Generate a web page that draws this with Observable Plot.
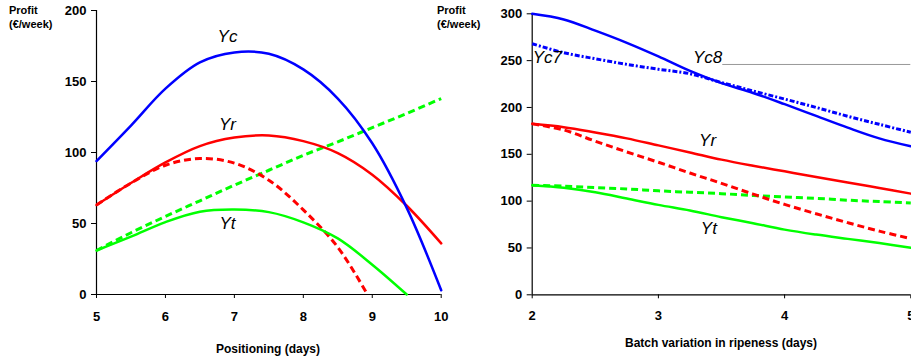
<!DOCTYPE html>
<html>
<head>
<meta charset="utf-8">
<script src="https://cdn.jsdelivr.net/npm/d3@7"></script>
<script src="https://cdn.jsdelivr.net/npm/@observablehq/plot@0.6"></script>
<style>
  body { margin: 0; background: white; font-family: "Liberation Sans", Arial, sans-serif; }
  #wrap { position: relative; width: 911px; height: 362px; overflow: hidden; background: white; }
  .panel { position: absolute; top: 0; }
  .ylab { position: absolute; top: 3px; font-size: 11px; font-weight: bold; line-height: 14px; color: #000; }
  .xlab { position: absolute; font-size: 12px; font-weight: bold; color: #000; transform: translate(-50%, -50%); white-space: nowrap; }
</style>
</head>
<body>
<div id="wrap">
  <div id="left" class="panel" style="left:0px"></div>
  <div id="right" class="panel" style="left:430px"></div>
  <div class="ylab" style="left:9px">Profit<br>(€/week)</div>
  <div class="ylab" style="left:437px">Profit<br>(€/week)</div>
  <div class="xlab" style="left:268px; top:349px">Positioning (days)</div>
  <div class="xlab" style="left:721px; top:343px">Batch variation in ripeness (days)</div>
</div>
<script>
// ---------- Left panel: Positioning (days) ----------
const posDays   = [5, 5.5, 6, 6.5, 7, 7.5, 8, 8.5, 9, 9.5, 10];
const posYc     = [94, 119, 145, 163.5, 170.5, 169.5, 158.5, 138, 106.5, 61, 3];
const posYr     = [63, 78.5, 93, 104.5, 110.5, 112, 108, 99.6, 84.4, 62.5, 36];
const posYtDash = [31, 43.5, 55, 66, 77, 87.5, 98, 107.5, 117.5, 127.5, 138];
const posYrDashDays = [5, 5.5, 6, 6.5, 7, 7.5, 8, 8.5, 8.93];
const posYrDash     = [63, 78.5, 91, 95.8, 92.5, 80.5, 59.6, 33.3, 0];
const posYtDays = [5, 5.5, 6, 6.5, 7, 7.5, 8, 8.5, 9, 9.5];
const posYt     = [31, 40.7, 51, 58.3, 59.8, 58, 50.8, 39.5, 21, 0];
const posXTicks = [5, 6, 7, 8, 9, 10];
const posYTicks = [0, 50, 100, 150, 200];
const posLabels = ["Yc", "Yr", "Yt"];
const posLabelX = [6.9, 6.9, 6.9];
const posLabelY = [182, 120, 50];

// ---------- Right panel: Batch variation in ripeness (days) ----------
const ripDays   = [2, 2.25, 2.5, 2.75, 3, 3.25, 3.5, 3.75, 4, 4.25, 4.5, 4.75, 5];
const ripYc8    = [300, 294, 282, 269, 254.5, 239, 226, 215.5, 203.5, 191, 178.5, 167, 158.5];
const ripYc7    = [268, 258.5, 252, 246, 240.8, 236, 226.6, 217.7, 209, 200, 190.6, 182, 173.5];
const ripYr     = [182.5, 179, 173.3, 167, 159.5, 152, 144.3, 137.8, 131.8, 125.8, 120, 114, 108];
const ripYrDash = [182.5, 176, 164, 152.5, 141.5, 130, 119, 107.5, 96.5, 86.5, 77, 68, 60];
const ripYt     = [117, 114.3, 109.5, 102.8, 96, 90, 82.9, 76.4, 69.6, 64.3, 59.7, 55.2, 50.2];
const ripYtDash = [117, 116, 114.5, 113, 111, 109.5, 108, 106, 104.5, 103, 101, 99.5, 98];
const ripXTicks = [2, 3, 4, 5];
const ripYTicks = [0, 50, 100, 150, 200, 250, 300];
const ripLabels = ["Yc7", "Yc8", "Yr", "Yt"];
const ripLabelX = [2.12, 3.39, 3.39, 3.40];
const ripLabelY = [253.7, 253.7, 164.7, 70.2];
const ripGuideX = [3.51, 5];
const ripGuideY = 245.9;

const BLUE = "#0000ff", RED = "#ff0000", GREEN = "#00ff00";
const zip = (xs, ys) => xs.map((x, i) => ({x, y: ys[i]}));
const baseStyle = {fontFamily: "Liberation Sans, Arial, sans-serif", fontSize: "13px", fontWeight: "bold", overflow: "visible", color: "black"};
const fmt = d => String(d);
const dashed = {strokeWidth: 3, strokeDasharray: "7,4", strokeLinecap: "butt", curve: "catmull-rom"};
const solid = {strokeWidth: 2.5, curve: "catmull-rom"};

const left = Plot.plot({
  width: 460, height: 362,
  marginLeft: 96, marginRight: 19.3, marginTop: 10, marginBottom: 68,
  style: {...baseStyle, background: "white"},
  x: {domain: [5, 10]},
  y: {domain: [0, 200]},
  marks: [
    Plot.axisY({ticks: posYTicks, tickFormat: fmt, tickSize: 5, tickPadding: 5, label: null, fontSize: 13, fontWeight: "bold"}),
    Plot.axisX({ticks: posXTicks, tickFormat: fmt, tickSize: 4, tickPadding: 13, label: null, fontSize: 13, fontWeight: "bold"}),
    Plot.ruleX([5], {stroke: "black", strokeWidth: 1.2}),
    Plot.ruleY([0], {stroke: "black", strokeWidth: 1.2}),
    Plot.line(zip(posDays, posYtDash), {x: "x", y: "y", stroke: GREEN, ...dashed}),
    Plot.line(zip(posYrDashDays, posYrDash), {x: "x", y: "y", stroke: RED, ...dashed}),
    Plot.line(zip(posYtDays, posYt), {x: "x", y: "y", stroke: GREEN, ...solid}),
    Plot.line(zip(posDays, posYr), {x: "x", y: "y", stroke: RED, ...solid}),
    Plot.line(zip(posDays, posYc), {x: "x", y: "y", stroke: BLUE, ...solid}),
    Plot.text(posLabels, {x: (d, i) => posLabelX[i], y: (d, i) => posLabelY[i], text: d => d, fontSize: 17, fontStyle: "italic", fontWeight: "normal", fill: "black"})
  ]
});
document.getElementById("left").appendChild(left);

const right = Plot.plot({
  width: 481, height: 362,
  marginLeft: 101.7, marginRight: 0.7, marginTop: 13.3, marginBottom: 67.7,
  style: {...baseStyle, background: "transparent"},
  x: {domain: [2, 5]},
  y: {domain: [0, 300]},
  marks: [
    Plot.axisY({ticks: ripYTicks, tickFormat: fmt, tickSize: 5, tickPadding: 5, label: null, fontSize: 13, fontWeight: "bold"}),
    Plot.axisX({ticks: ripXTicks, tickFormat: fmt, tickSize: 4, tickPadding: 12, label: null, fontSize: 13, fontWeight: "bold"}),
    Plot.ruleX([2], {stroke: "black", strokeWidth: 1.2}),
    Plot.ruleY([0], {stroke: "black", strokeWidth: 1.2}),
    Plot.ruleY([ripGuideY], {x1: ripGuideX[0], x2: ripGuideX[1], stroke: "#999999", strokeWidth: 1}),
    Plot.line(zip(ripDays, ripYtDash), {x: "x", y: "y", stroke: GREEN, ...dashed}),
    Plot.line(zip(ripDays, ripYrDash), {x: "x", y: "y", stroke: RED, ...dashed}),
    Plot.line(zip(ripDays, ripYt), {x: "x", y: "y", stroke: GREEN, ...solid}),
    Plot.line(zip(ripDays, ripYr), {x: "x", y: "y", stroke: RED, ...solid}),
    Plot.line(zip(ripDays, ripYc7), {x: "x", y: "y", stroke: BLUE, strokeWidth: 3, strokeDasharray: "5,2,2,2", strokeLinecap: "butt", curve: "catmull-rom"}),
    Plot.line(zip(ripDays, ripYc8), {x: "x", y: "y", stroke: BLUE, ...solid}),
    Plot.text(ripLabels, {x: (d, i) => ripLabelX[i], y: (d, i) => ripLabelY[i], text: d => d, fontSize: 17, fontStyle: "italic", fontWeight: "normal", fill: "black"})
  ]
});
document.getElementById("right").appendChild(right);
</script>
</body>
</html>
